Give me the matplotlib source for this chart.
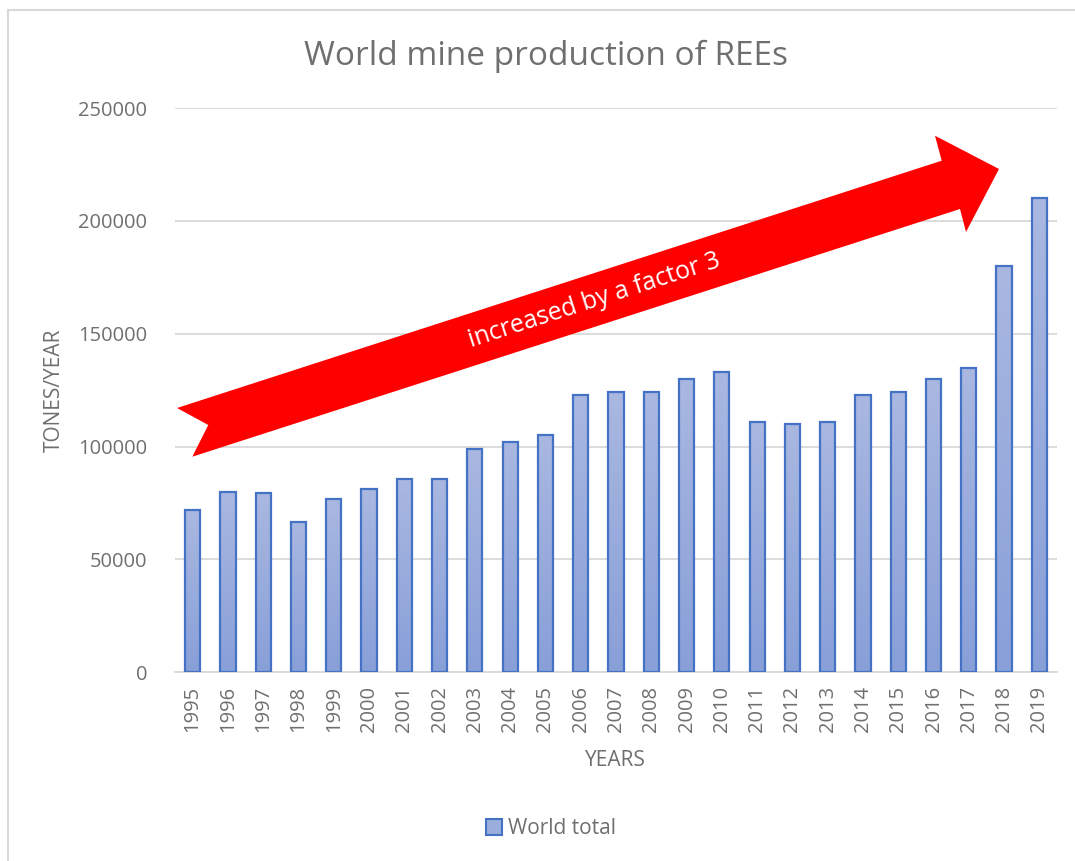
import matplotlib
matplotlib.use('Agg')
import matplotlib.pyplot as plt
import numpy as np
from matplotlib.patches import Polygon, Patch
from matplotlib.lines import Line2D
from matplotlib.colors import LinearSegmentedColormap

plt.rcParams['font.family'] = ['Open Sans', 'DejaVu Sans']

years = [str(y) for y in range(1995, 2020)]
world_total = [72000, 80000, 79500, 66500, 76700, 81000, 85700, 85700, 99100,
               102000, 105000, 123000, 124000, 124000, 130000, 133000, 111000,
               110000, 111000, 123000, 124000, 130000, 135000, 180000, 210000]
yticks = [0, 50000, 100000, 150000, 200000, 250000]

W, H = 1075, 861
fig = plt.figure(figsize=(W / 100, H / 100), dpi=100)

def px(x, y):
    # pixel (from top-left) -> figure fraction
    return (x / W, 1 - y / H)

# chart area border (only left and top edges are visible in the crop)
x0, y0 = px(8, 10)
fig.lines.append(Line2D([x0, x0], [0, y0], transform=fig.transFigure,
                        color='#d9d9d9', lw=1.5))
fig.lines.append(Line2D([x0, 1], [y0, y0], transform=fig.transFigure,
                        color='#d9d9d9', lw=1.5))

ax = fig.add_axes([175 / W, 1 - 672.3 / H, 882 / W, (672.3 - 108) / H])

grey = '#6f6f6f'
x = np.arange(len(years))
bw = 0.43
bars = ax.bar(x, world_total, width=bw, color='none', edgecolor='#4472c4',
              linewidth=1.6, zorder=3)

# subtle vertical gradient inside each bar
cmap = LinearSegmentedColormap.from_list('g', ['#889fd8', '#aab8e1'])
grad = np.linspace(0, 1, 256).reshape(-1, 1)
for xi, v in zip(x, world_total):
    ax.imshow(grad, extent=[xi - bw / 2, xi + bw / 2, 0, v], origin='lower',
              cmap=cmap, aspect='auto', zorder=2)

ax.set_xlim(-0.5, len(years) - 0.5)
ax.set_ylim(0, 250000)
ax.set_yticks(yticks)
ax.set_yticklabels([str(t) for t in yticks])
ax.set_xticks(x)
ax.set_xticklabels(years, rotation=90)
ax.tick_params(axis='both', length=0, colors=grey, labelsize=14.5)
ax.tick_params(axis='y', pad=20)
ax.tick_params(axis='x', pad=10)
ax.grid(True, axis='y', color='#d9d9d9', linewidth=1.3, zorder=0)
ax.set_axisbelow(True)
for s in ['top', 'right', 'left']:
    ax.spines[s].set_visible(False)
ax.spines['bottom'].set_color('#d9d9d9')
ax.spines['bottom'].set_linewidth(1.3)

# titles and labels
fig.text(*px(546, 56), 'World mine production of REEs', ha='center', va='center',
         fontsize=24, color=grey)
fig.text(*px(54, 390), 'TONES/YEAR', ha='center', va='center', rotation=90,
         fontsize=15, color=grey)
fig.text(*px(615, 760), 'YEARS', ha='center', va='center', fontsize=15, color=grey)

leg = fig.legend([Patch(facecolor='#9aaedd', edgecolor='#4472c4', lw=1.5)], ['World total'],
                 loc='center', bbox_to_anchor=px(551, 829), frameon=False,
                 fontsize=15, handlelength=0.8, handleheight=0.8, handletextpad=0.3)
for t in leg.get_texts():
    t.set_color(grey)

# big red arrow annotation
arrow_pts = [(177, 408), (941.7, 160.7), (935, 135.7), (999, 169), (966, 232),
             (960, 209), (192.3, 456.7), (208.3, 425)]
fig.patches.append(Polygon([px(a, b) for a, b in arrow_pts], closed=True,
                           transform=fig.transFigure, facecolor='#ff0000',
                           edgecolor='none', zorder=5))
fig.text(*px(594, 301), 'increased by a factor 3', ha='center', va='center',
         rotation=17.9, rotation_mode='anchor', fontsize=18, color='white', zorder=6)

fig.savefig('out.png', dpi=100)
